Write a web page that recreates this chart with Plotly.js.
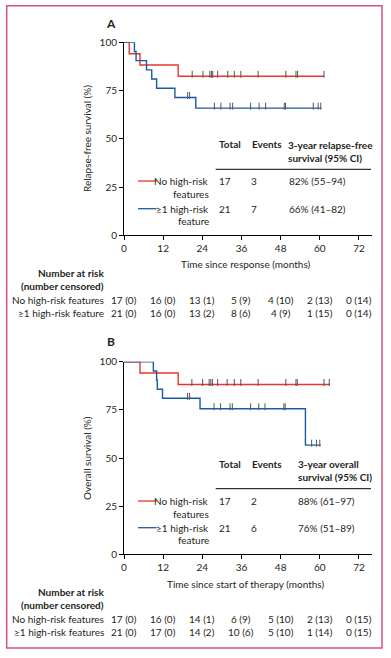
<!DOCTYPE html>
<html>
<head>
<meta charset="utf-8">
<script src="https://cdn.plot.ly/plotly-3.0.1.min.js"></script>
<style>html,body{margin:0;padding:0;background:#fff;}#chart{width:391px;height:658px;}</style>
</head>
<body>
<div id="chart"></div>
<script>
// ---------- data ----------
const tickMonths = [0, 12, 24, 36, 48, 60, 72];
const yTicks = [0, 25, 50, 75, 100];

// Panel A: relapse-free survival
const aRedTime = [0, 1.6, 4.9, 16.6, 61.3];
const aRedSurv = [100, 94.1, 88.2, 82.4, 82.4];
const aRedCens = [20.9, 24.2, 26.3, 26.8, 27.2, 28.7, 31.8, 33.8, 35.8, 41.1, 49.6, 52.7, 53.2, 61.3];
const aBlueTime = [0, 3.2, 3.7, 6.9, 8.5, 10.0, 15.6, 22.0, 60.5];
const aBlueSurv = [100, 95.2, 90.5, 85.7, 81.0, 76.2, 71.4, 65.9, 65.9];
const aBlueCens = [19.5, 20.1, 27.7, 29.7, 32.5, 33.3, 38.8, 41.4, 43.4, 49.1, 49.5, 58.0, 59.5, 60.3];

// Panel B: overall survival
const bRedTime = [0, 4.9, 16.6, 63.1];
const bRedSurv = [100, 94.1, 88.2, 88.2];
const bRedCens = [20.8, 24.1, 26.1, 26.6, 27.1, 28.7, 31.6, 33.8, 35.8, 41.1, 49.6, 52.7, 53.1, 61.3, 62.9];
const bBlueTime = [0, 9.0, 10.0, 10.2, 11.8, 23.3, 55.6, 60.3];
const bBlueSurv = [100, 95.2, 90.5, 85.7, 81.0, 75.6, 56.7, 56.7];
const bBlueCens = [19.5, 20.1, 27.6, 29.6, 32.5, 33.2, 38.8, 41.3, 43.2, 49.0, 49.4, 57.5, 59.0, 60.0];

// Numbers at risk
const aRiskNo = ['17 (0)', '16 (0)', '13 (1)', '5 (9)', '4 (10)', '2 (13)', '0 (14)'];
const aRiskHi = ['21 (0)', '16 (0)', '13 (2)', '8 (6)', '4 (9)', '1 (15)', '0 (14)'];
const bRiskNo = ['17 (0)', '16 (0)', '14 (1)', '6 (9)', '5 (10)', '2 (13)', '0 (15)'];
const bRiskHi = ['21 (0)', '17 (0)', '14 (2)', '10 (6)', '5 (10)', '1 (14)', '0 (15)'];

// Summary tables
const aTable = {header: ['Total', 'Events', '3-year relapse-free<br>survival (95% CI)'],
  no: ['17', '3', '82% (55–94)'], hi: ['21', '7', '66% (41–82)']};
const bTable = {header: ['Total', 'Events', '3-year overall<br>survival (95% CI)'],
  no: ['17', '2', '88% (61–97)'], hi: ['21', '6', '76% (51–89)']};

// ---------- drawing ----------
const W = 391, H = 658;
const RED = '#e8352f', BLUE = '#1b5aa2', TXT = '#231f20';
const FONT = 'Lato, "Open Sans", sans-serif';
const px = x => x / W, py = y => 1 - y / H;

function stepAt(times, surv, t) {
  let v = surv[0];
  for (let i = 0; i < times.length; i++) if (times[i] <= t) v = surv[i];
  return v;
}

function curves(times, surv, cens, color, xa, ya) {
  return [
    {x: times, y: surv, type: 'scatter', mode: 'lines', line: {shape: 'hv', color: color, width: 1.4},
     xaxis: xa, yaxis: ya, hoverinfo: 'skip'},
    {x: cens, y: cens.map(t => stepAt(times, surv, t) + 1.0), type: 'scatter', mode: 'markers',
     marker: {symbol: 'line-ns', size: 5, line: {width: 1, color: '#555'}},
     xaxis: xa, yaxis: ya, hoverinfo: 'skip'}
  ];
}

const data = [].concat(
  curves(aRedTime, aRedSurv, aRedCens, RED, 'x', 'y'),
  curves(aBlueTime, aBlueSurv, aBlueCens, BLUE, 'x', 'y'),
  curves(bRedTime, bRedSurv, bRedCens, RED, 'x2', 'y2'),
  curves(bBlueTime, bBlueSurv, bBlueCens, BLUE, 'x2', 'y2')
);

function xaxisDef() {
  return {domain: [px(124), px(372)], range: [0, 76], tickvals: tickMonths, ticks: 'outside', ticklen: 4,
    tickwidth: 1, tickcolor: '#000', showline: true, linecolor: '#000', linewidth: 1, showgrid: false,
    zeroline: false, tickfont: {size: 10, color: TXT, family: FONT}, fixedrange: true};
}
function yaxisDef(top, bottom) {
  return {domain: [py(bottom), py(top)], range: [0, 100], tickvals: yTicks, ticks: 'outside', ticklen: 4,
    tickwidth: 1, tickcolor: '#000', showline: true, linecolor: '#000', linewidth: 1, showgrid: false,
    zeroline: false, tickfont: {size: 10, color: TXT, family: FONT}, fixedrange: true};
}

const ann = [];
const shapes = [];
function txt(x, y, text, opts) {
  ann.push(Object.assign({x: px(x), y: py(y), xref: 'paper', yref: 'paper', text: text, showarrow: false,
    xanchor: 'left', yanchor: 'middle', font: {size: 10, color: TXT, family: FONT}}, opts || {}));
}

function panel(o) {
  txt(111, o.labelY, '<b>' + o.label + '</b>', {xanchor: 'center', font: {size: 12, color: TXT, family: FONT}});
  txt(87, o.yTitleY, o.yTitle, {xanchor: 'center', textangle: -90});
  txt(246, o.xTitleY, o.xTitle, {xanchor: 'center'});
  // table header
  const t = o.table;
  txt(216.5, o.hY, '<b>' + t.header[0] + '</b>');
  txt(250, o.hY, '<b>' + t.header[1] + '</b>');
  txt(o.col3, o.hY + 7, '<b>' + t.header[2] + '</b>', {align: 'left'});
  shapes.push({type: 'line', xref: 'paper', yref: 'paper', x0: px(215.7), x1: px(371), y0: py(o.ruleY), y1: py(o.ruleY),
    line: {color: '#000', width: 1}});
  // rows
  txt(210.5, o.r1, 'No high-risk', {xanchor: 'right'});
  txt(210.5, o.r1 + 13, 'features', {xanchor: 'right'});
  txt(210.5, o.r2, '≥1 high-risk', {xanchor: 'right'});
  txt(210.5, o.r2 + 12.5, 'feature', {xanchor: 'right'});
  shapes.push({type: 'line', xref: 'paper', yref: 'paper', x0: px(138), x1: px(156.5), y0: py(o.r1), y1: py(o.r1),
    line: {color: RED, width: 1.3}});
  shapes.push({type: 'line', xref: 'paper', yref: 'paper', x0: px(138), x1: px(156.5), y0: py(o.r2), y1: py(o.r2),
    line: {color: BLUE, width: 1.3}});
  [[t.no, o.r1], [t.hi, o.r2]].forEach(([row, y]) => {
    txt(216.5, y, row[0]);
    txt(254, y, row[1], {xanchor: 'center'});
    txt(o.col3 + 0.5, y, row[2]);
  });
  // number at risk
  txt(106, o.nY, '<b>Number at risk</b>', {xanchor: 'right'});
  txt(106, o.nY + 13, '<b>(number censored)</b>', {xanchor: 'right'});
  txt(106, o.nY + 27.3, 'No high-risk features', {xanchor: 'right'});
  txt(106, o.nY + 40.6, o.hiLabel, {xanchor: 'right'});
  tickMonths.forEach((m, i) => {
    ann.push({x: m, y: py(o.nY + 27.3), xref: o.xref, yref: 'paper', text: o.riskNo[i], showarrow: false,
      xanchor: 'center', yanchor: 'middle', font: {size: 10, color: TXT, family: FONT}});
    ann.push({x: m, y: py(o.nY + 40.6), xref: o.xref, yref: 'paper', text: o.riskHi[i], showarrow: false,
      xanchor: 'center', yanchor: 'middle', font: {size: 10, color: TXT, family: FONT}});
  });
}

panel({label: 'A', labelY: 23.5, yTitle: 'Relapse-free survival (%)', yTitleY: 139, xTitle: 'Time since response (months)',
  xTitleY: 264.3, table: aTable, hY: 144.3, col3: 286, ruleY: 169.3, r1: 181, r2: 208.7, nY: 272.7,
  hiLabel: '≥1 high-risk feature', riskNo: aRiskNo, riskHi: aRiskHi, xref: 'x'});
panel({label: 'B', labelY: 341.7, yTitle: 'Overall survival (%)', yTitleY: 458, xTitle: 'Time since start of therapy (months)',
  xTitleY: 584, table: bTable, hY: 464, col3: 295.7, ruleY: 488.7, r1: 501, r2: 527.7, nY: 591.7,
  hiLabel: '≥1 high-risk features', riskNo: bRiskNo, riskHi: bRiskHi, xref: 'x2'});

shapes.push({type: 'rect', xref: 'paper', yref: 'paper', x0: px(6.7), x1: px(382), y0: py(648), y1: py(5.8),
  line: {color: '#d9527c', width: 1.5}});

const layout = {
  width: W, height: H, margin: {l: 0, r: 0, t: 0, b: 0}, showlegend: false,
  paper_bgcolor: '#fff', plot_bgcolor: 'rgba(0,0,0,0)', font: {family: FONT, color: TXT, size: 10},
  xaxis: Object.assign(xaxisDef(), {anchor: 'y'}),
  yaxis: Object.assign(yaxisDef(42.3, 235.3), {anchor: 'x'}),
  xaxis2: Object.assign(xaxisDef(), {anchor: 'y2'}),
  yaxis2: Object.assign(yaxisDef(361.7, 554.3), {anchor: 'x2'}),
  annotations: ann, shapes: shapes
};

Plotly.newPlot('chart', data, layout, {displayModeBar: false, staticPlot: true});
</script>
</body>
</html>
